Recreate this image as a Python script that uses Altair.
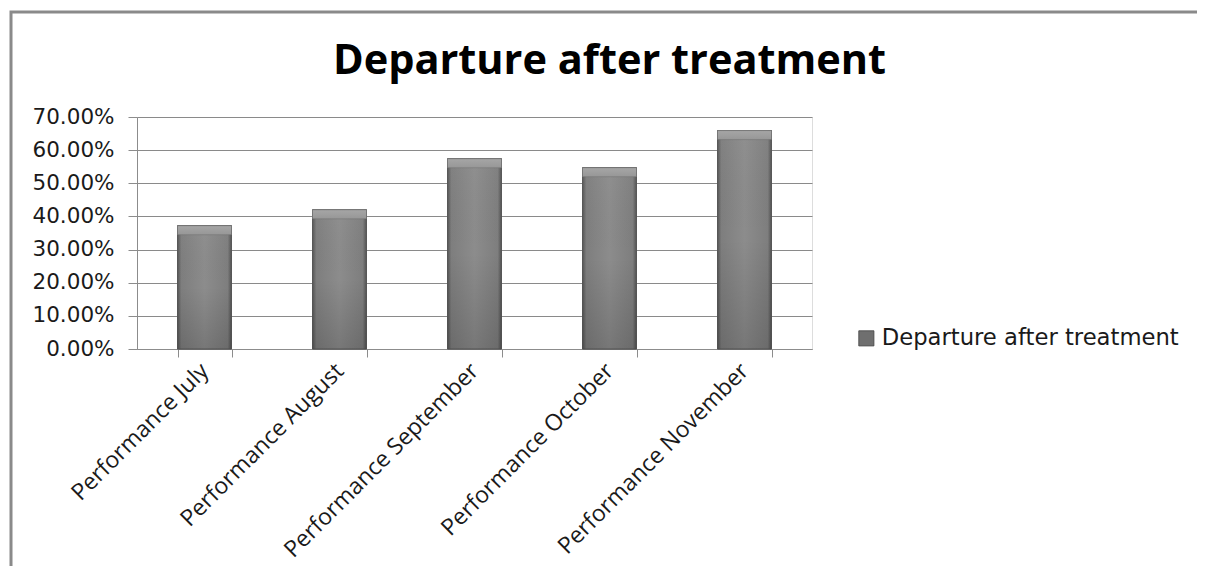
import altair as alt
import pandas as pd

categories = ["Performance July", "Performance August", "Performance September",
              "Performance October", "Performance November"]
values = [0.372, 0.420, 0.574, 0.547, 0.659]
series = "Departure after treatment"
y_ticks = [0, 0.1, 0.2, 0.3, 0.4, 0.5, 0.6, 0.7]

df = pd.DataFrame({"category": categories, "value": values, "series": [series] * len(categories)})

W, H = 675, 232
PAD = {"left": 129, "top": 109, "right": 385, "bottom": 217}

x = alt.X("category:N", sort=categories, title=None,
          scale=alt.Scale(paddingInner=0.6, paddingOuter=0.3),
          axis=alt.Axis(labelAngle=-45, labelAlign="right", labelBaseline="middle",
                        labelFont="Open Sans", labelFontSize=23, labelColor="#1a1a1a",
                        labelPadding=10, labelLimit=500, labelOverlap=False,
                        tickBand="extent", tickSize=8, tickColor="#8c8c8c",
                        domainColor="#8c8c8c", grid=False))
y = alt.Y("value:Q", title=None,
          scale=alt.Scale(domain=[0, 0.7], nice=False),
          axis=alt.Axis(values=y_ticks, tickCount=8, format=".2%", labelFont="DejaVu Sans",
                        labelFontSize=21.5, labelColor="#1a1a1a", labelPadding=14,
                        labelOverlap=False, tickSize=9, tickColor="#8c8c8c",
                        domainColor="#8c8c8c", gridColor="#8a8a8a", gridWidth=1.2,
                        gridOpacity=1))

frame = alt.Chart(pd.DataFrame({"k": [0]})).mark_rect(
    fill=None, stroke="#8a8a8a", strokeWidth=3
).encode(x=alt.value(-126), x2=alt.value(1100), y=alt.value(-105), y2=alt.value(500))

base = alt.Chart(df).mark_bar(stroke="#555555", strokeWidth=0.8).encode(
    x=x, y=y,
    color=alt.Color("series:N", scale=alt.Scale(range=["#6f6f6f"]),
                    legend=alt.Legend(title=None, orient="none", legendX=718, legendY=210,
                                      symbolType="square", symbolSize=230,
                                      symbolStrokeColor="#444", symbolStrokeWidth=0.8,
                                      labelFont="DejaVu Sans", labelFontSize=22.7,
                                      labelColor="#1a1a1a", labelLimit=400))
)

hgrad = alt.Chart(df).mark_bar(
    color=alt.LinearGradient(gradient="linear", x1=0, x2=1, y1=0, y2=0, stops=[
        alt.GradientStop(color="#555555", offset=0),
        alt.GradientStop(color="#7e7e7e", offset=0.07),
        alt.GradientStop(color="#8c8c8c", offset=0.5),
        alt.GradientStop(color="#7e7e7e", offset=0.93),
        alt.GradientStop(color="#525252", offset=1)]),
    stroke="#555555", strokeWidth=0.8
).encode(x=x, y=y)

vgrad = alt.Chart(df).mark_bar(
    color=alt.LinearGradient(gradient="linear", x1=0, x2=0, y1=0, y2=1, stops=[
        alt.GradientStop(color="rgba(255,255,255,0.03)", offset=0),
        alt.GradientStop(color="rgba(0,0,0,0.0)", offset=0.5),
        alt.GradientStop(color="rgba(0,0,0,0.15)", offset=1)])
).encode(x=x, y=y)

bevel = alt.Chart(df).mark_bar(
    color=alt.LinearGradient(gradient="linear", x1=0, x2=0, y1=0, y2=1, stops=[
        alt.GradientStop(color="#a6a6a6", offset=0),
        alt.GradientStop(color="#979797", offset=1)]),
    y2Offset=9, stroke="#707070", strokeWidth=0.5
).encode(x=x, y=y, y2="value:Q")

chart = alt.layer(frame, base, hgrad, vgrad, bevel).properties(
    width=W, height=H,
    title=alt.TitleParams(series, font="Open Sans", fontSize=41.5, fontWeight="bold",
                          color="#000000", anchor="middle", frame="group", offset=-72,
                          dx=135),
    autosize=alt.AutoSizeParams(type="none"),
    padding=PAD,
).configure_view(stroke=None).configure(background="white")

chart.save("out.html", embed_options={"renderer": "svg", "actions": False})
